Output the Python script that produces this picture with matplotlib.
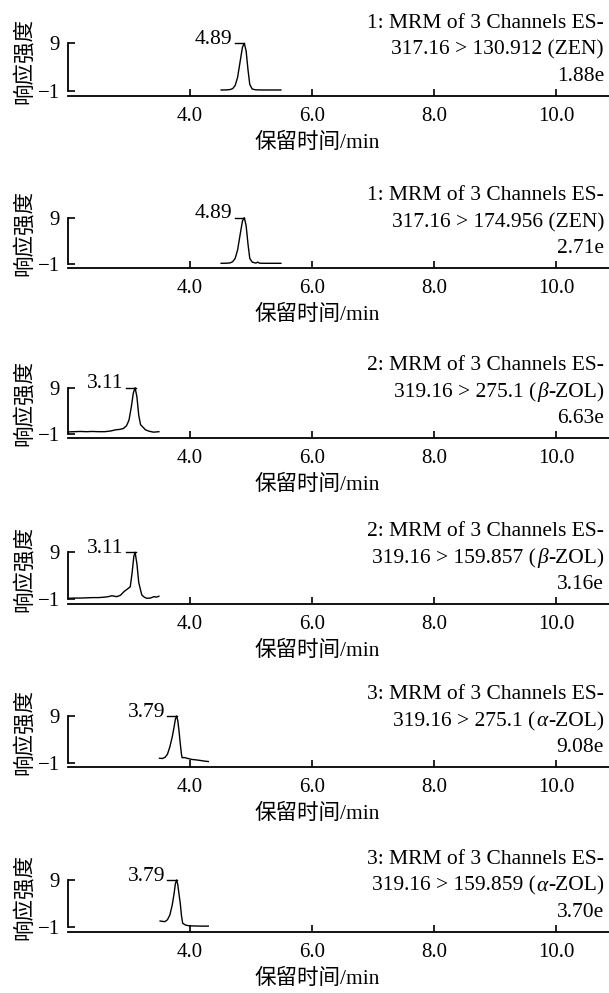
import matplotlib
matplotlib.use('Agg')
import matplotlib.pyplot as plt

plt.rcParams['font.family'] = ['Liberation Serif', 'Noto Sans CJK SC']
plt.rcParams['axes.unicode_minus'] = True

# Chromatogram traces (time in min, relative response)
t1 = [4.51, 4.60, 4.66, 4.70, 4.74, 4.78, 4.82, 4.86, 4.89, 4.92, 4.95, 4.98, 5.02, 5.08, 5.20, 5.35, 5.49]
s1 = [-0.85, -0.83, -0.75, -0.55, 0.1, 1.8, 5.0, 8.2, 9.0, 7.4, 3.5, 0.3, -0.65, -0.82, -0.85, -0.85, -0.85]

t2 = [4.51, 4.60, 4.66, 4.70, 4.74, 4.78, 4.82, 4.86, 4.89, 4.92, 4.95, 4.98, 5.02, 5.08, 5.11, 5.14, 5.20, 5.35, 5.49]
s2 = [-0.85, -0.83, -0.75, -0.5, 0.2, 2.0, 5.2, 8.3, 9.0, 7.3, 3.4, 0.2, -0.6, -0.8, -0.6, -0.82, -0.85, -0.85, -0.85]

t3 = [2.00, 2.10, 2.20, 2.30, 2.40, 2.50, 2.60, 2.70, 2.78, 2.85, 2.91, 2.96, 3.00, 3.04, 3.07, 3.10, 3.13, 3.16, 3.19, 3.22, 3.27, 3.33, 3.40, 3.45, 3.49]
s3 = [-0.55, -0.5, -0.45, -0.5, -0.45, -0.5, -0.5, -0.35, -0.1, 0.0, 0.2, 0.8, 2.0, 5.0, 7.8, 9.0, 7.0, 3.0, 1.0, 0.6, -0.1, -0.4, -0.6, -0.55, -0.5]

t4 = [2.00, 2.10, 2.20, 2.30, 2.40, 2.50, 2.60, 2.66, 2.72, 2.80, 2.86, 2.92, 2.97, 3.02, 3.05, 3.08, 3.10, 3.13, 3.16, 3.21, 3.25, 3.29, 3.35, 3.41, 3.45, 3.49]
s4 = [-0.85, -0.8, -0.8, -0.75, -0.7, -0.7, -0.6, -0.5, -0.3, -0.5, -0.2, 0.6, 1.1, 1.6, 4.5, 8.2, 9.0, 6.5, 2.5, -0.15, -0.6, -0.85, -0.8, -0.5, -0.6, -0.4]

t5 = [3.50, 3.55, 3.59, 3.63, 3.67, 3.71, 3.74, 3.76, 3.78, 3.80, 3.82, 3.84, 3.86, 3.87, 3.91, 3.95, 4.03, 4.10, 4.16, 4.23, 4.30]
s5 = [-0.05, -0.1, 0.15, 0.8, 2.4, 4.6, 6.7, 8.3, 9.0, 8.0, 5.8, 3.15, 0.8, 0.07, 0.1, -0.05, -0.3, -0.4, -0.5, -0.65, -0.75]

t6 = [3.51, 3.55, 3.59, 3.63, 3.67, 3.71, 3.74, 3.76, 3.78, 3.80, 3.82, 3.84, 3.86, 3.88, 3.93, 4.00, 4.08, 4.16, 4.23, 4.30]
s6 = [0.33, 0.25, 0.2, 0.6, 1.6, 3.8, 6.2, 8.2, 9.0, 8.0, 6.0, 4.1, 1.5, -0.15, -0.55, -0.7, -0.72, -0.75, -0.75, -0.75]

times = [t1, t2, t3, t4, t5, t6]
signals = [s1, s2, s3, s4, s5, s6]
peak_times = [4.89, 4.89, 3.11, 3.11, 3.79, 3.79]
peak_labels = ['4.89', '4.89', '3.11', '3.11', '3.79', '3.79']

title_lines = ['1: MRM of 3 Channels ES-', '1: MRM of 3 Channels ES-',
               '2: MRM of 3 Channels ES-', '2: MRM of 3 Channels ES-',
               '3: MRM of 3 Channels ES-', '3: MRM of 3 Channels ES-']
# transition line split as (plain start, italic greek, plain end)
transitions = [('317.16 > 130.912 (ZEN)', '', ''), ('317.16 > 174.956 (ZEN)', '', ''),
               ('319.16 > 275.1 (', 'β', '-ZOL)'), ('319.16 > 159.857 (', 'β', '-ZOL)'),
               ('319.16 > 275.1 (', 'α', '-ZOL)'), ('319.16 > 159.859 (', 'α', '-ZOL)')]
intensities = ['1.88e', '2.71e', '6.63e', '3.16e', '9.08e', '3.70e']

xticks = [4.0, 6.0, 8.0, 10.0]
xtick_labels = ['4.0', '6.0', '8.0', '10.0']
yticks = [9, -1]

W, H = 609, 993
fig = plt.figure(figsize=(W / 100, H / 100), dpi=100)
renderer = fig.canvas.get_renderer()

# pixel positions of the y=9 tick, y=-1 tick and x axis line for each panel
rows = [(43.3, 90.7, 95.7), (217.7, 264.0, 268.3), (387.7, 434.0, 438.3),
        (552.3, 599.0, 604.0), (716.0, 762.7, 767.3), (880.0, 927.3, 931.7)]
left_px = 68
fs = 15.5
tfs = 15


def right_text(x_px, y_px, parts):
    # draw pieces right to left so the italic letter sits inside the plain text
    x = x_px
    for txt, style in reversed(parts):
        if not txt:
            continue
        t = fig.text(x / W, 1 - y_px / H, txt, ha='right', va='baseline',
                     fontsize=fs, fontstyle=style)
        bb = t.get_window_extent(renderer)
        x = bb.x0 - (1.0 if style == 'italic' else 0.0)


for i, (y9, ym1, yb) in enumerate(rows):
    ax = fig.add_axes([left_px / W, 1 - yb / H, 1 - left_px / W, (yb - y9) / H])
    scale = (ym1 - y9) / 10
    ax.set_ylim(-1 - (yb - ym1) / scale, 9)
    ax.set_xlim(2.0, 2.0 + (W - left_px) / 61.0)

    ax.plot(times[i], signals[i], color='black', lw=1.0, clip_on=False)

    # peak label with leader line
    pt = peak_times[i]
    ax.plot([pt - 0.16, pt], [9, 9], color='black', lw=1.0, clip_on=False)
    ax.text(pt - 0.2, 9.8, peak_labels[i], ha='right', va='center', fontsize=fs, clip_on=False)

    for side in ['top', 'right']:
        ax.spines[side].set_visible(False)
    ax.spines['left'].set_bounds(-1, 9)
    ax.spines['left'].set_linewidth(1.3)
    ax.spines['bottom'].set_linewidth(1.3)
    ax.set_xticks(xticks)
    ax.set_xticklabels(xtick_labels)
    ax.set_yticks(yticks)
    ax.tick_params(axis='both', direction='in', length=5, width=1.2, labelsize=tfs)
    ax.tick_params(axis='x', pad=8)
    ax.tick_params(axis='y', pad=6)
    ax.patch.set_alpha(0)

    # axis titles
    fig.text(317 / W, 1 - (yb + 47) / H, '保留时间/min', ha='center', va='center', fontsize=fs)
    fig.text(25 / W, 1 - (yb - 35) / H, '响应强度', ha='center', va='center',
             rotation=90, fontsize=fs)

    # channel description
    fig.text(604 / W, 1 - (yb - 68) / H, title_lines[i], ha='right', va='baseline', fontsize=fs)
    a, g, b = transitions[i]
    right_text(604, yb - 41, [(a, 'normal'), (g, 'italic'), (b, 'normal')])
    fig.text(604 / W, 1 - (yb - 15) / H, intensities[i], ha='right', va='baseline', fontsize=fs)

fig.savefig('out.png', dpi=100)
